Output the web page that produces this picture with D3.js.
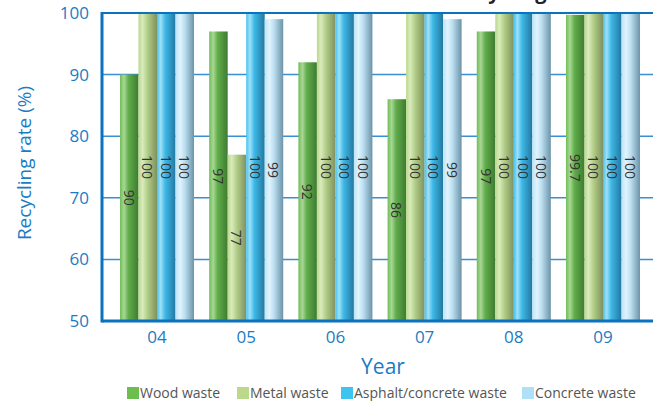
<!DOCTYPE html>
<html><head><meta charset="utf-8">
<script src="https://cdn.jsdelivr.net/npm/d3@7"></script>
<style>body{margin:0;background:#fff;}svg{display:block;font-family:"Open Sans","Noto Sans",sans-serif;}</style>
</head><body><svg id="c" width="667" height="401"></svg>
<script>
const years = ["04","05","06","07","08","09"];
const seriesNames = ["Wood waste","Metal waste","Asphalt/concrete waste","Concrete waste"];
const woodWaste = [90,97,92,86,97,99.7];
const metalWaste = [100,77,100,100,100,100];
const asphaltConcreteWaste = [100,100,100,100,100,100];
const concreteWaste = [100,99,100,99,100,100];
const yTicks = [50,60,70,80,90,100];
const seriesValues = [woodWaste, metalWaste, asphaltConcreteWaste, concreteWaste];

const grads = [
  {id:"g0", stops:[["0%","#6fbd55"],["22%","#a9d796"],["45%","#62ae4b"],["100%","#3e7b31"]], solid:"#6cbf4f"},
  {id:"g1", stops:[["0%","#b9d98b"],["22%","#d9ebbd"],["50%","#b0cc85"],["100%","#7f9160"]], solid:"#bcd98b"},
  {id:"g2", stops:[["0%","#43c3ef"],["20%","#9fe0f8"],["45%","#3cb8e6"],["100%","#2378a0"]], solid:"#3fc4f0"},
  {id:"g3", stops:[["0%","#bde4f6"],["25%","#e0f4fd"],["50%","#bcdff0"],["100%","#6c93a8"]], solid:"#aee0f6"}
];

const svg = d3.select("#c");
const defs = svg.append("defs");
grads.forEach(g=>{
  const lgr = defs.append("linearGradient").attr("id",g.id).attr("x1","0").attr("x2","1").attr("y1","0").attr("y2","0");
  g.stops.forEach(s=>lgr.append("stop").attr("offset",s[0]).attr("stop-color",s[1]));
});

const plotL=102, plotR=653, plotT=13, plotB=321;
const blue="#0b72bd", textBlue="#1a7cc4";
const y = d3.scaleLinear().domain([50,100]).range([plotB, plotT]);
const x0 = d3.scaleBand().domain(years).range([112.4, 647.6]).paddingInner(0.17).paddingOuter(0.085);
const x1 = d3.scaleBand().domain(seriesNames).range([0, x0.bandwidth()]);

// partially visible title (cut off at top, as in the reference)
svg.append("text").attr("x",453).attr("y",-1).attr("font-size",20).attr("font-weight","bold").attr("fill","#222").text("Recycling Rates");

// gridlines
svg.append("g").selectAll("line").data(yTicks.filter(t=>t>50&&t<100)).join("line")
  .attr("x1",plotL).attr("x2",plotR).attr("y1",d=>y(d)).attr("y2",d=>y(d))
  .attr("stroke","#3a8fd4").attr("stroke-width",1.5);

// bars
const groups = svg.append("g").selectAll("g").data(years).join("g")
  .attr("transform",d=>`translate(${x0(d)},0)`);
groups.each(function(yr, i){
  const g = d3.select(this);
  seriesNames.forEach((s, j)=>{
    const v = seriesValues[j][i];
    g.append("rect").attr("x",x1(s)).attr("width",x1.bandwidth()).attr("y",y(v)).attr("height",y(50)-y(v))
      .attr("fill",`url(#${grads[j].id})`);
  });
  seriesNames.forEach((s, j)=>{
    const v = seriesValues[j][i];
    const cx = x1(s)+x1.bandwidth()/2, cy = y((50+v)/2);
    g.append("text").attr("transform",`translate(${cx},${cy}) rotate(90)`)
      .attr("text-anchor","middle").attr("dominant-baseline","central")
      .attr("font-size",14).attr("fill","#333").text(String(v));
  });
});

// axes
const yAxis = d3.axisLeft(y).tickValues(yTicks).tickSize(0).tickPadding(13);
const ya = svg.append("g").attr("transform",`translate(${plotL},0)`).call(yAxis);
ya.select(".domain").remove();
ya.selectAll("text").attr("font-size",17).attr("fill",textBlue).attr("font-family","Open Sans, Noto Sans, sans-serif");

const xAxis = d3.axisBottom(x0).tickSize(0).tickPadding(10);
const xa = svg.append("g").attr("transform",`translate(0,${plotB})`).call(xAxis);
xa.select(".domain").remove();
xa.selectAll("text").attr("font-size",17).attr("fill",textBlue).attr("font-family","Open Sans, Noto Sans, sans-serif");

svg.append("line").attr("x1",plotL).attr("x2",plotR).attr("y1",plotT).attr("y2",plotT).attr("stroke",blue).attr("stroke-width",2);
svg.append("line").attr("x1",plotL).attr("x2",plotR).attr("y1",plotB).attr("y2",plotB).attr("stroke",blue).attr("stroke-width",3);
svg.append("line").attr("x1",plotL).attr("x2",plotL).attr("y1",plotT-1).attr("y2",plotB+1.5).attr("stroke",blue).attr("stroke-width",3);

// axis titles
svg.append("text").attr("transform",`translate(31,163) rotate(-90)`).attr("text-anchor","middle")
  .attr("font-size",19).attr("fill",textBlue).text("Recycling rate (%)");
svg.append("text").attr("x",383).attr("y",374).attr("text-anchor","middle")
  .attr("font-size",21).attr("fill",textBlue).text("Year");

// legend
const legendX = [127, 237, 341, 522];
const lg = svg.append("g");
seriesNames.forEach((s,j)=>{
  lg.append("rect").attr("x",legendX[j]).attr("y",387).attr("width",12).attr("height",12).attr("fill",grads[j].solid);
  lg.append("text").attr("x",legendX[j]+13).attr("y",398).attr("font-size",14).attr("fill","#555").text(s);
});
</script></body></html>
